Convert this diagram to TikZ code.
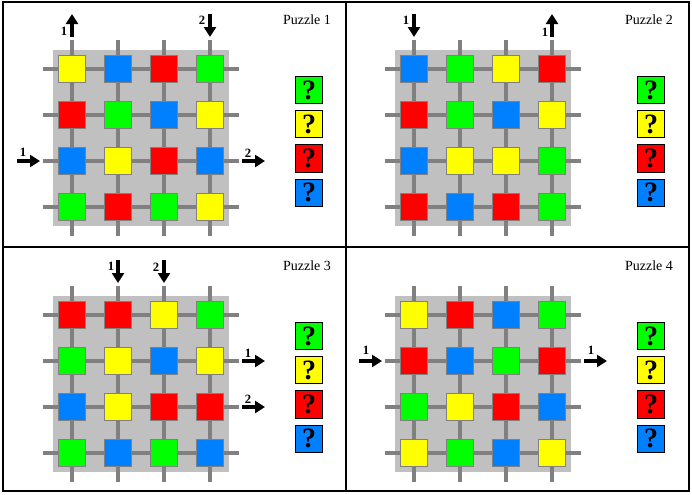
\documentclass[tikz,border=0pt]{standalone}
\usepackage{fontspec}
\setmainfont{Liberation Serif}
\usetikzlibrary{arrows.meta}

\definecolor{boardgray}{HTML}{C0C0C0}
\definecolor{wiregray}{HTML}{808080}
\definecolor{pY}{HTML}{FFFF00}
\definecolor{pB}{HTML}{0080FF}
\definecolor{pR}{HTML}{FF0000}
\definecolor{pG}{HTML}{00FF00}

\begin{document}
\begin{tikzpicture}[x=0.75pt,y=-0.75pt,
  tile/.style={draw=wiregray, line width=0.75pt, inner sep=0pt, minimum size=20pt},
  key/.style={draw=black, line width=0.75pt, inner sep=0pt, minimum size=20.5pt,
    font=\fontsize{21}{21}\selectfont\bfseries},
  feed/.style={line width=3.2pt, -{Triangle[length=7.5pt,width=9pt]}},
  num/.style={font=\fontsize{9.5}{10}\selectfont\bfseries, inner sep=0pt},
  title/.style={font=\fontsize{10.5}{12}\selectfont, inner sep=0pt}]

\useasboundingbox (0,0) rectangle (692,494);

% frame
\draw[line width=1pt] (3,2) rectangle (689,491);
\draw[line width=1pt] (346,2) -- (346,491);
\draw[line width=1pt] (3,247) -- (689,247);

% the four boards
\foreach \n/\dx/\dy/\tiles in {
    1/0/0/{Y,B,R,G,R,G,B,Y,B,Y,R,B,G,R,G,Y},
    2/342/0/{B,G,Y,R,R,G,B,Y,B,Y,Y,G,R,B,R,G},
    3/0/246/{R,R,Y,G,G,Y,B,Y,B,Y,R,R,G,B,G,B},
    4/342/246/{Y,R,B,G,R,B,G,R,G,Y,R,B,Y,G,B,Y}} {
  \begin{scope}[shift={(\dx,\dy)}]
    \fill[boardgray] (53,50) rectangle (229,226);
    \foreach \i in {0,...,3} {
        \draw[wiregray, line width=3pt] (43,69+46*\i) -- (239,69+46*\i);
        \draw[wiregray, line width=3pt] (72+46*\i,40) -- (72+46*\i,236);
    }
    \foreach \c [count=\k from 0] in \tiles {
        \pgfmathtruncatemacro\row{\k/4}
        \pgfmathtruncatemacro\col{mod(\k,4)}
        \node[tile, fill=p\c] (t\n-\row-\col) at (72+46*\col,69+46*\row) {};
    }
    \foreach \c [count=\k from 0] in {G,Y,R,B} {
        \node[key, fill=p\c] (key\n-\k) at (309,90+34.3*\k) {?};
    }
    \node[title] (title\n) at (307,20) {Puzzle \n};
  \end{scope}
}

% puzzle 1
\draw[feed] (72,37) -- (72,14);
\node[num] (a1) at (64,31) {1};
\draw[feed] (210,14) -- (210,37);
\node[num] (a2) at (202,20) {2};
\draw[feed] (17,161) -- (40,161);
\node[num] (a3) at (23,152) {1};
\draw[feed] (242,161) -- (265,161);
\node[num] (a4) at (248,153) {2};

% puzzle 2
\draw[feed] (414,14) -- (414,37);
\node[num] (b1) at (406,20) {1};
\draw[feed] (552,37) -- (552,14);
\node[num] (b2) at (545,32) {1};

% puzzle 3
\draw[feed] (118,260) -- (118,283);
\node[num] (c1) at (111,266) {1};
\draw[feed] (164,260) -- (164,283);
\node[num] (c2) at (156,267) {2};
\draw[feed] (242,361) -- (265,361);
\node[num] (c3) at (248,353) {1};
\draw[feed] (242,407) -- (265,407);
\node[num] (c4) at (248,399) {2};

% puzzle 4
\draw[feed] (359,361) -- (382,361);
\node[num] (d1) at (366,350) {1};
\draw[feed] (584,361) -- (607,361);
\node[num] (d2) at (591,350) {1};

\end{tikzpicture}
\end{document}
